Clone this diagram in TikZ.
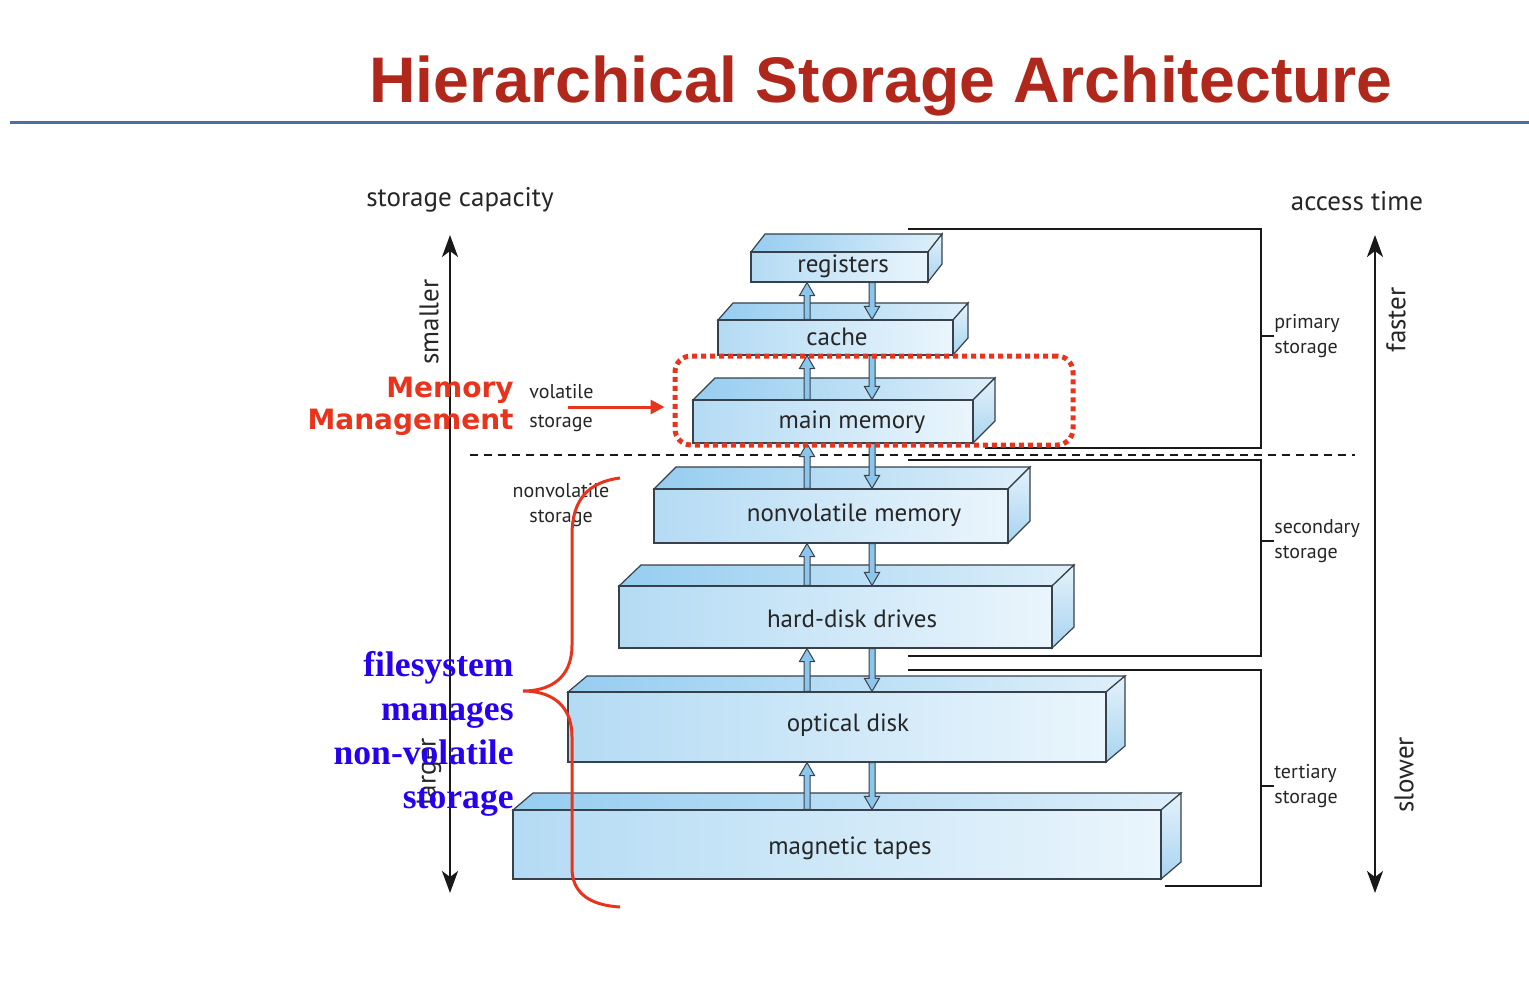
\documentclass[tikz,border=0pt]{standalone}
\usepackage{fontspec}
\setmainfont{PT Sans}
\newfontfamily\titlefont{Liberation Sans}
\newfontfamily\redfont{DejaVu Sans}
\newfontfamily\serifblue{Liberation Serif}
\usetikzlibrary{arrows.meta,calc}

\definecolor{titlered}{RGB}{176,40,28}
\definecolor{rulblue}{RGB}{79,110,160}
\definecolor{memred}{RGB}{232,52,28}
\definecolor{fsblue}{RGB}{40,0,240}
\definecolor{frontL}{RGB}{180,219,244}
\definecolor{frontR}{RGB}{234,245,252}
\definecolor{topL}{RGB}{150,205,240}
\definecolor{topR}{RGB}{222,239,250}
\definecolor{sideA}{RGB}{168,212,240}
\definecolor{sideB}{RGB}{228,242,251}
\definecolor{arrfill}{RGB}{140,198,236}
\definecolor{edge}{RGB}{55,65,75}

\tikzset{
  front/.style={rectangle, inner sep=0pt, left color=frontL, right color=frontR, draw=edge, line width=0.6pt},
  facestyle/.style={draw=edge, line width=0.6pt},
  barrow/.style={fill=arrfill, draw=edge, line width=0.5pt},
  boxlabel/.style={font=\fontsize{12.5}{14}\selectfont, text=black!85, inner sep=0pt},
  smalllabel/.style={font=\fontsize{10}{12.5}\selectfont, text=black!85, inner sep=0pt},
  axislabel/.style={font=\fontsize{13.5}{16}\selectfont, text=black!85, inner sep=0pt},
  bracket/.style={black!90, line width=0.9pt},
  axisarrow/.style={black!90, line width=1.1pt, {Stealth[length=11pt,width=8pt,inset=3pt]}-{Stealth[length=11pt,width=8pt,inset=3pt]}},
}

% name, x1, y1, x2, y2, dx, dy
\newcommand\slab[7]{%
  \shadedraw[facestyle, left color=topL, right color=topR] (#2,#3) -- ++(#6,#7) -- ++({#4-#2},0) -- (#4,#3) -- cycle;
  \shadedraw[facestyle, top color=sideB, bottom color=sideA] (#4,#3) -- ++(#6,#7) -- ++(0,{#5-#3}) -- (#4,#5) -- cycle;
  \node[front, minimum width={(#4-#2)*0.5pt}, minimum height={(#5-#3)*0.5pt}] (#1) at ({(#2+#4)/2},{(#3+#5)/2}) {};
}
\newcommand\arrowup[2]{%
  \filldraw[barrow] let \p1=(#1), \p2=(#2) in
  (\x1-1.5pt,\y1) -- (\x1-1.5pt,\y2-6.5pt) -- (\x1-3.8pt,\y2-6.5pt) -- (\x1,\y2) -- (\x1+3.8pt,\y2-6.5pt) -- (\x1+1.5pt,\y2-6.5pt) -- (\x1+1.5pt,\y1) -- cycle;}
\newcommand\arrowdown[2]{%
  \filldraw[barrow] let \p1=(#1), \p2=(#2) in
  (\x1-1.5pt,\y1) -- (\x1-1.5pt,\y2+6.5pt) -- (\x1-3.8pt,\y2+6.5pt) -- (\x1,\y2) -- (\x1+3.8pt,\y2+6.5pt) -- (\x1+1.5pt,\y2+6.5pt) -- (\x1+1.5pt,\y1) -- cycle;}

\begin{document}
\begin{tikzpicture}[x=0.5pt,y=-0.5pt]
\useasboundingbox (0,0) rectangle (1529,1005);
\fill[white] (0,0) rectangle (1529,1005);

% title
\node[font=\titlefont\bfseries\fontsize{32.2}{38}\selectfont, text=titlered, anchor=base, inner sep=0pt] (title) at (881,103) {Hierarchical Storage Architecture};
\draw[rulblue, line width=1.5pt] (10,123) -- (1529,123);

% axis headings
\node[axislabel] (cap) at (460,200) {storage capacity};
\node[axislabel] (acc) at (1357,201) {access time};

% axes
\coordinate (lt) at (450,235);
\coordinate (lb) at (450,893);
\coordinate (rt) at (1375,235);
\coordinate (rb) at (1375,893);
\draw[axisarrow] (lt) -- (lb);
\draw[axisarrow] (rt) -- (rb);
\node[axislabel, rotate=90] (small) at (429,322) {smaller};
\node[axislabel, rotate=90] (large) at (429,772) {larger};
\node[axislabel, rotate=90] (fast) at (1396,320) {faster};
\node[axislabel, rotate=90] (slow) at (1404,775) {slower};

% dashed separator
\draw[black!90, line width=0.8pt, dash pattern=on 4pt off 3pt] (470,455) -- (1355,455);

% right brackets
\draw[bracket] (908,229) -| (1261,448) -- (985,448);
\draw[bracket] (908,460) -| (1261,656) -- (908,656);
\draw[bracket] (908,670) -| (1261,886) -- (1165,886);
\node[smalllabel, anchor=west, align=left] (prim) at (1274,336) {primary\\storage};
\node[smalllabel, anchor=west, align=left] (sec) at (1274,541) {secondary\\storage};
\node[smalllabel, anchor=west, align=left] (ter) at (1274,786) {tertiary\\storage};
\draw[bracket] (1261,336) -- (prim.west);
\draw[bracket] (1261,541) -- (sec.west);
\draw[bracket] (1261,786) -- (ter.west);

% boxes
\slab{reg}{751}{252}{928}{282}{14}{-18}
\slab{cache}{718}{320}{953}{355}{15}{-17}
\slab{main}{693}{400}{973}{443}{22}{-22}
\slab{nvm}{654}{489}{1008}{543}{22}{-22}
\slab{hdd}{619}{586}{1052}{648}{22}{-21}
\slab{opt}{568}{692}{1106}{762}{19}{-16}
\slab{tape}{513}{810}{1161}{879}{20}{-17}

\node[boxlabel] (regl) at (843,266) {registers};
\node[boxlabel] (cachel) at (837,337) {cache};
\node[boxlabel] (mainl) at (852,422) {main memory};
\node[boxlabel] (nvml) at (854,515) {nonvolatile memory};
\node[boxlabel] (hddl) at (852,619) {hard-disk drives};
\node[boxlabel] (optl) at (848,725) {optical disk};
\node[boxlabel] (tapel) at (850,848) {magnetic tapes};

% transfer arrows
\coordinate (ux) at (807,0);
\coordinate (dx) at (872,0);
\arrowup{ux |- cache.north}{ux |- reg.south}
\arrowdown{dx |- reg.south}{dx |- cache.north}
\arrowup{ux |- main.north}{ux |- cache.south}
\arrowdown{dx |- cache.south}{dx |- main.north}
\arrowup{ux |- nvm.north}{ux |- main.south}
\arrowdown{dx |- main.south}{dx |- nvm.north}
\arrowup{ux |- hdd.north}{ux |- nvm.south}
\arrowdown{dx |- nvm.south}{dx |- hdd.north}
\arrowup{ux |- opt.north}{ux |- hdd.south}
\arrowdown{dx |- hdd.south}{dx |- opt.north}
\arrowup{ux |- tape.north}{ux |- opt.south}
\arrowdown{dx |- opt.south}{dx |- tape.north}

% left labels
\node[smalllabel, anchor=west, align=left, font=\fontsize{10}{14.5}\selectfont] (vol) at (529,408) {volatile\\storage};
\node[smalllabel, align=center] (nonvol) at (561,505) {nonvolatile\\storage};

% memory management highlight
\node[draw=memred, line width=2.5pt, dash pattern=on 2.5pt off 2pt, rounded corners=8pt, minimum width=199pt, minimum height=44.5pt, inner sep=0pt] (mm) at (874,400.5) {};
\coordinate (ra) at (568,407);
\draw[memred, line width=1.5pt, -{Triangle[length=7pt,width=7pt]}, shorten >=4pt] (ra) -- (ra -| mm.west);
\node[font=\redfont\bfseries\fontsize{14}{16}\selectfont, text=memred, align=right, anchor=east, inner sep=0pt] (mmtext) at (514,406) {Memory\\Management};

% filesystem brace
\draw[memred, line width=1.5pt] (620,478) .. controls (588,482) and (572,500) .. (572,535) -- (572,645)
  .. controls (572,680) and (548,691) .. (523,691)
  .. controls (548,691) and (572,702) .. (572,737) -- (572,868)
  .. controls (572,892) and (588,905) .. (620,907);
\node[font=\serifblue\bfseries\fontsize{17.8}{22}\selectfont, text=fsblue, align=right, anchor=east, inner sep=0pt] (fstext) at (514,734) {filesystem\\manages\\non-volatile\\storage};

\end{tikzpicture}
\end{document}
